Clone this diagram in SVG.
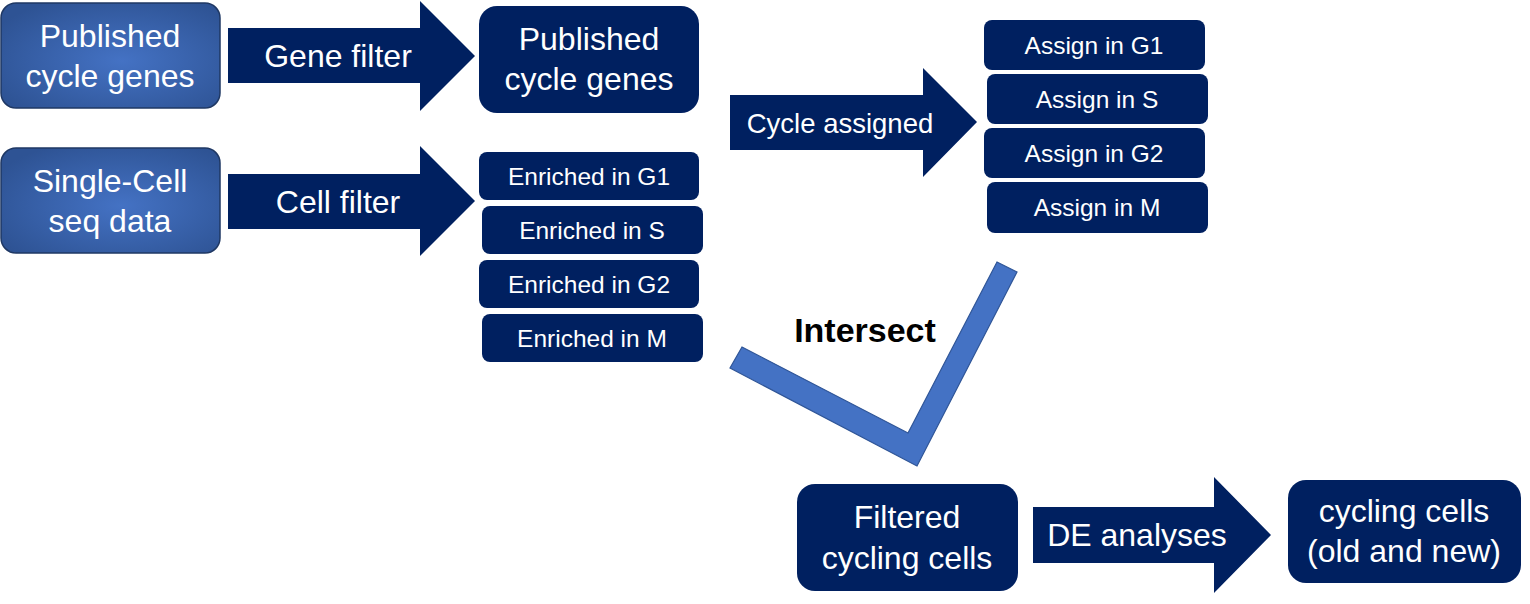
<svg xmlns="http://www.w3.org/2000/svg" width="1530" height="604" viewBox="0 0 1530 604">
<defs>
<radialGradient id="lg" cx="55%" cy="55%" r="65%">
<stop offset="0" stop-color="#4472C4"/>
<stop offset="1" stop-color="#2E5394"/>
</radialGradient>
</defs>
<style>
.light{fill:url(#lg);stroke:#1F3864;stroke-width:1.5}
.dark{fill:#002060}
.arrow{fill:#002060}
.t{font-family:"Liberation Sans",Arial,sans-serif;fill:#fff;text-anchor:middle}
.big{font-size:32px}
.med{font-size:27.5px}
.sm{font-size:24.5px}
.int{font-family:"Liberation Sans",Arial,sans-serif;font-weight:bold;font-size:34px;fill:#000;text-anchor:middle}
</style>
<rect width="1530" height="604" fill="#fff"/>

<g id="connectors">
<g id="gene-filter">
<polygon class="arrow" points="228,28 420,28 420,1 475,56 420,111 420,83 228,83"/>
<text class="t big" x="338" y="67">Gene filter</text>
</g>
<g id="cell-filter">
<polygon class="arrow" points="228,174 420,174 420,146 475,201 420,256 420,229 228,229"/>
<text class="t big" x="338" y="213">Cell filter</text>
</g>
<g id="cycle-assigned">
<polygon class="arrow" points="730,95 923,95 923,68 977,122 923,177 923,150 730,150"/>
<text class="t med" x="840" y="133">Cycle assigned</text>
</g>
<g id="intersect">
<polygon points="742,347 730,368 917,466 1017,272 997,262 908,433" fill="#4472C4" stroke="#2F5597" stroke-width="1.2"/>
<text class="int" x="865" y="342">Intersect</text>
</g>
<g id="de-analyses">
<polygon class="arrow" points="1033,507 1214,507 1214,477 1271,535 1214,593 1214,563 1033,563"/>
<text class="t big" x="1137" y="546">DE analyses</text>
</g>
</g>

<g id="published-input">
<rect class="light" x="1" y="3" width="219" height="105" rx="15"/>
<text class="t big" x="110" y="47">Published</text>
<text class="t big" x="110" y="87">cycle genes</text>
</g>
<g id="singlecell-input">
<rect class="light" x="1" y="148" width="219" height="105" rx="15"/>
<text class="t big" x="110" y="192">Single-Cell</text>
<text class="t big" x="110" y="232">seq data</text>
</g>
<g id="published-filtered">
<rect class="dark" x="479" y="6" width="220" height="107" rx="18"/>
<text class="t big" x="589" y="50">Published</text>
<text class="t big" x="589" y="90">cycle genes</text>
</g>
<g id="enriched-g1">
<rect class="dark" x="479" y="152" width="220" height="48" rx="8"/>
<text class="t sm" x="589" y="185">Enriched in G1</text>
</g>
<g id="enriched-s">
<rect class="dark" x="482" y="206" width="221" height="48" rx="8"/>
<text class="t sm" x="592" y="239">Enriched in S</text>
</g>
<g id="enriched-g2">
<rect class="dark" x="479" y="260" width="220" height="48" rx="8"/>
<text class="t sm" x="589" y="293">Enriched in G2</text>
</g>
<g id="enriched-m">
<rect class="dark" x="482" y="314" width="221" height="48" rx="8"/>
<text class="t sm" x="592" y="347">Enriched in M</text>
</g>
<g id="assign-g1">
<rect class="dark" x="984" y="20" width="221" height="50" rx="8"/>
<text class="t sm" x="1094" y="54">Assign in G1</text>
</g>
<g id="assign-s">
<rect class="dark" x="987" y="74" width="221" height="50" rx="8"/>
<text class="t sm" x="1097" y="108">Assign in S</text>
</g>
<g id="assign-g2">
<rect class="dark" x="984" y="128" width="221" height="50" rx="8"/>
<text class="t sm" x="1094" y="162">Assign in G2</text>
</g>
<g id="assign-m">
<rect class="dark" x="987" y="182" width="221" height="51" rx="8"/>
<text class="t sm" x="1097" y="216">Assign in M</text>
</g>
<g id="filtered-cycling">
<rect class="dark" x="797" y="484" width="221" height="107" rx="18"/>
<text class="t big" x="907" y="528">Filtered</text>
<text class="t big" x="907" y="569">cycling cells</text>
</g>
<g id="cycling-cells">
<rect class="dark" x="1288" y="480" width="233" height="103" rx="18"/>
<text class="t big" x="1404" y="522">cycling cells</text>
<text class="t big" x="1404" y="562">(old and new)</text>
</g>
</svg>
